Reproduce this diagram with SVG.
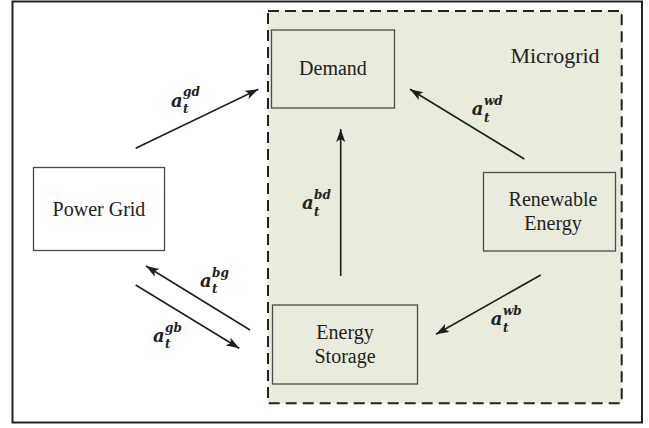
<svg xmlns="http://www.w3.org/2000/svg" width="649" height="428" viewBox="0 0 649 428">
  <defs>
    <marker id="ah" markerUnits="userSpaceOnUse" markerWidth="14" markerHeight="10" refX="13" refY="4.5" orient="auto">
      <path d="M0,0 L13,4.5 L0,9 L3,4.5 z" fill="#1e1e1e"/>
    </marker>
    <style>
      .node { fill: #e9ecdd; stroke: #4a4a4a; stroke-width: 1.3; }
      .white { fill: #ffffff; stroke: #4a4a4a; stroke-width: 1.3; }
      .lbl { font-family: "Liberation Serif", "Times New Roman", serif; font-size: 20px; fill: #222; text-anchor: middle; }
      .conn { stroke: #1e1e1e; stroke-width: 1.6; fill: none; marker-end: url(#ah); }
      .m { font-family: "DejaVu Serif", serif; font-weight: bold; font-style: italic; fill: #222; }
      .ma { font-size: 18px; }
      .ms { font-size: 12px; }
    </style>
  </defs>
  <rect x="0" y="0" width="649" height="428" fill="#ffffff"/>
  <rect id="frame" x="12.5" y="1.5" width="629.5" height="421" fill="#ffffff" stroke="#222" stroke-width="2"/>

  <g id="microgrid">
    <rect x="268" y="11" width="353.7" height="392.3" fill="#e9ecdd" stroke="#222" stroke-width="2" stroke-dasharray="11 6"/>
    <text class="lbl" x="555" y="63" style="font-size:22px">Microgrid</text>
  </g>

  <g id="demand">
    <rect class="node" x="271.5" y="30" width="123" height="78"/>
    <text class="lbl" x="333" y="75">Demand</text>
  </g>

  <g id="power-grid">
    <rect class="white" x="33.5" y="167.5" width="131" height="83"/>
    <text class="lbl" x="99" y="216">Power Grid</text>
  </g>

  <g id="renewable">
    <rect class="node" x="483.5" y="172.5" width="132" height="78.5"/>
    <text class="lbl" x="553" y="206">Renewable</text>
    <text class="lbl" x="553" y="230">Energy</text>
  </g>

  <g id="storage">
    <rect class="node" x="272.5" y="305" width="145" height="79"/>
    <text class="lbl" x="345" y="339">Energy</text>
    <text class="lbl" x="345" y="363">Storage</text>
  </g>

  <g id="connectors">
    <line class="conn" x1="135.7" y1="148.3" x2="258.3" y2="89.3"/>
    <line class="conn" x1="340.7" y1="276" x2="340.7" y2="129"/>
    <line class="conn" x1="524.3" y1="159" x2="410" y2="89.3"/>
    <line class="conn" x1="540.7" y1="275" x2="436" y2="334.3"/>
    <line class="conn" x1="250" y1="330" x2="146" y2="266"/>
    <line class="conn" x1="135.7" y1="285" x2="239.3" y2="348.3"/>
  </g>

  <g id="labels">
    <text class="m ma" x="171" y="106.7">a</text><text class="m ms" x="183" y="96">gd</text><text class="m ms" x="183" y="113">t</text>
    <text class="m ma" x="302" y="209">a</text><text class="m ms" x="314" y="198.5">bd</text><text class="m ms" x="314" y="215.5">t</text>
    <text class="m ma" x="471.7" y="115">a</text><text class="m ms" x="484" y="104.5">wd</text><text class="m ms" x="484" y="121.5">t</text>
    <text class="m ma" x="490.7" y="325">a</text><text class="m ms" x="503" y="314.5">wb</text><text class="m ms" x="503" y="331.5">t</text>
    <text class="m ma" x="200" y="286.7">a</text><text class="m ms" x="212" y="276.5">bg</text><text class="m ms" x="212" y="293">t</text>
    <text class="m ma" x="153" y="341.7">a</text><text class="m ms" x="165" y="331.5">gb</text><text class="m ms" x="165" y="348">t</text>
  </g>
</svg>
